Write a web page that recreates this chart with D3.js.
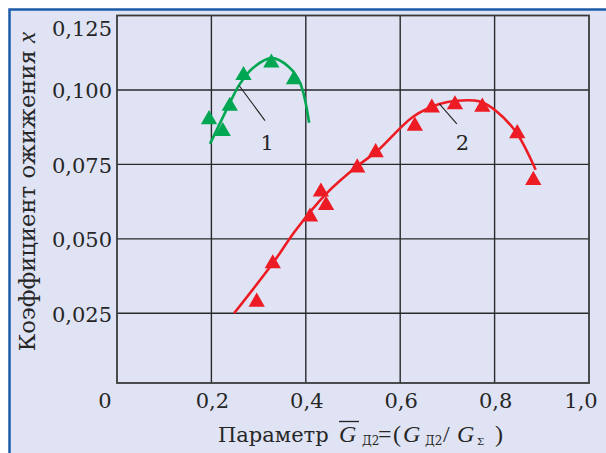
<!DOCTYPE html>
<html>
<head>
<meta charset="utf-8">
<script src="https://cdn.jsdelivr.net/npm/d3@7"></script>
<style>
  body { margin: 0; background: #fff; }
  text { font-family: "DejaVu Serif", serif; fill: #262626; }
  .math { font-family: "Liberation Serif", serif; }
</style>
</head>
<body>
<div id="chart"></div>
<script>
// curve 1 (green) - markers and fitted line
let g1x = [0.195, 0.224, 0.239, 0.268, 0.327, 0.375];
let g1y = [0.0901, 0.0861, 0.0946, 0.1049, 0.1091, 0.1035];
let g1cx = [0.197, 0.239, 0.259, 0.288, 0.328, 0.363, 0.388, 0.407];
let g1cy = [0.0819, 0.0956, 0.1017, 0.1074, 0.1107, 0.1079, 0.1023, 0.0890];

// curve 2 (red)
let r2x = [0.296, 0.330, 0.409, 0.432, 0.443, 0.509, 0.548, 0.631, 0.667, 0.716, 0.774, 0.848, 0.882];
let r2y = [0.0288, 0.0417, 0.0574, 0.0658, 0.0613, 0.0739, 0.0790, 0.0879, 0.0940, 0.0951, 0.0943, 0.0854, 0.0697];
let r2cx = [0.248, 0.330, 0.379, 0.444, 0.508, 0.550, 0.628, 0.683, 0.720, 0.769, 0.805, 0.847, 0.887];
let r2cy = [0.0250, 0.0418, 0.0530, 0.0653, 0.0743, 0.0793, 0.0911, 0.0953, 0.0964, 0.0961, 0.0927, 0.0855, 0.0732];

let xTicks = [0, 0.2, 0.4, 0.6, 0.8, 1.0];
let xLabels = ["0", "0,2", "0,4", "0,6", "0,8", "1,0"];
let yTicks = [0.025, 0.050, 0.075, 0.100, 0.125];
let yLabels = ["0,025", "0,050", "0,075", "0,100", "0,125"];

let width = 606, height = 453;
let pLeft = 117, pRight = 589, pTop = 15.5, pBottom = 383;

let svg = d3.select("#chart")
    .append("svg")
    .attr("width", width)
    .attr("height", height);

// panel
svg.append("rect").attr("x", 9).attr("y", 9).attr("width", width - 9).attr("height", height - 9)
    .style("fill", "#dfe3f4");
svg.append("path").attr("d", "M9.5," + height + "V9.5H" + width)
    .style("fill", "none").style("stroke", "#1d5ba8").style("stroke-width", 2.5);

let x = d3.scaleLinear().domain([0, 1]).range([pLeft, pRight]);
let y = d3.scaleLinear().domain([0.0016, 0.125]).range([pBottom, pTop]);

// grid
svg.selectAll(".vgrid").data(xTicks.slice(1, -1)).enter().append("line")
    .attr("x1", d => x(d)).attr("x2", d => x(d))
    .attr("y1", pTop).attr("y2", pBottom)
    .style("stroke", "#2a2a2a").style("stroke-width", 1.4);
svg.selectAll(".hgrid").data(yTicks.slice(0, -1)).enter().append("line")
    .attr("x1", pLeft).attr("x2", pRight)
    .attr("y1", d => y(d)).attr("y2", d => y(d))
    .style("stroke", "#2a2a2a").style("stroke-width", 1.4);
svg.append("rect").attr("x", pLeft).attr("y", pTop)
    .attr("width", pRight - pLeft).attr("height", pBottom - pTop)
    .style("fill", "none").style("stroke", "#3a3a3a").style("stroke-width", 1.8);

// tick labels
svg.selectAll(".ylab").data(yTicks).enter().append("text")
    .attr("x", pLeft - 5)
    .attr("y", (d, i) => i === yTicks.length - 1 ? 36 : y(d) + 8.5)
    .attr("text-anchor", "end")
    .style("font-size", "21px")
    .text((d, i) => yLabels[i]);
svg.selectAll(".xlab").data(xTicks).enter().append("text")
    .attr("x", (d, i) => i === 0 ? x(d) - 12 : (i === xTicks.length - 1 ? x(d) - 8 : x(d) + 1))
    .attr("y", 408)
    .attr("text-anchor", "middle")
    .style("font-size", "21px")
    .text((d, i) => xLabels[i]);

// axis titles
let yt = svg.append("text")
    .attr("transform", "translate(35,191.5) rotate(-90)")
    .attr("text-anchor", "middle")
    .style("font-size", "22.7px");
yt.append("tspan").text("Коэффициент ожижения ");
yt.append("tspan").attr("class", "math").style("font-style", "italic").style("font-size", "25px").text("x");

let xt = svg.append("text").attr("y", 441.5).style("font-size", "21px");
xt.append("tspan").attr("x", 218).text("Параметр");
xt.append("tspan").attr("x", 339).attr("class", "math").style("font-style", "italic").style("font-size", "24px").text("G");
xt.append("tspan").attr("x", 362).attr("dy", 3).style("font-size", "12px").text("Д2");
xt.append("tspan").attr("x", 378).attr("dy", -3).attr("class", "math").style("font-size", "24px").text("=");
xt.append("tspan").attr("x", 393).attr("class", "math").style("font-size", "24px").text("(");
xt.append("tspan").attr("x", 403).attr("class", "math").style("font-style", "italic").style("font-size", "24px").text("G");
xt.append("tspan").attr("x", 425).attr("dy", 3).style("font-size", "12px").text("Д2");
xt.append("tspan").attr("x", 443).attr("dy", -3).attr("class", "math").style("font-size", "24px").text("/");
xt.append("tspan").attr("x", 457).attr("class", "math").style("font-style", "italic").style("font-size", "24px").text("G");
xt.append("tspan").attr("x", 477).attr("dy", 3).style("font-size", "10px").text("Σ");
xt.append("tspan").attr("x", 495).attr("dy", -3).attr("class", "math").style("font-size", "24px").text(")");
svg.append("line").attr("x1", 339).attr("x2", 359).attr("y1", 421.5).attr("y2", 421.5)
    .style("stroke", "#222").style("stroke-width", 1.3);

// curves
let line = d3.line().x(d => x(d[0])).y(d => y(d[1])).curve(d3.curveCatmullRom);
svg.append("path").datum(g1cx.map((v, i) => [v, g1cy[i]]))
    .attr("d", line)
    .style("fill", "none").style("stroke", "#00a651").style("stroke-width", 2.6);
svg.append("path").datum(r2cx.map((v, i) => [v, r2cy[i]]))
    .attr("d", line)
    .style("fill", "none").style("stroke", "#ed1c24").style("stroke-width", 2.6);

// markers
let tri = d3.symbol().type(d3.symbolTriangle).size(115);
svg.selectAll(".gm").data(g1x).enter().append("path")
    .attr("d", tri)
    .attr("transform", (d, i) => "translate(" + x(d) + "," + y(g1y[i]) + ")")
    .style("fill", "#00a651");
svg.selectAll(".rm").data(r2x).enter().append("path")
    .attr("d", tri)
    .attr("transform", (d, i) => "translate(" + x(d) + "," + y(r2y[i]) + ")")
    .style("fill", "#ed1c24");

// curve labels with leader lines
svg.append("line")
    .attr("x1", x(0.259)).attr("y1", y(0.1014)).attr("x2", x(0.3136)).attr("y2", y(0.0897))
    .style("stroke", "#222").style("stroke-width", 1.1);
svg.append("text").attr("x", x(0.318)).attr("y", y(0.0799)).attr("text-anchor", "middle")
    .style("font-size", "21px").text("1");
svg.append("line")
    .attr("x1", x(0.683)).attr("y1", y(0.0953)).attr("x2", x(0.720)).attr("y2", y(0.0886))
    .style("stroke", "#222").style("stroke-width", 1.1);
svg.append("text").attr("x", x(0.732)).attr("y", y(0.0799)).attr("text-anchor", "middle")
    .style("font-size", "21px").text("2");
</script>
</body>
</html>
